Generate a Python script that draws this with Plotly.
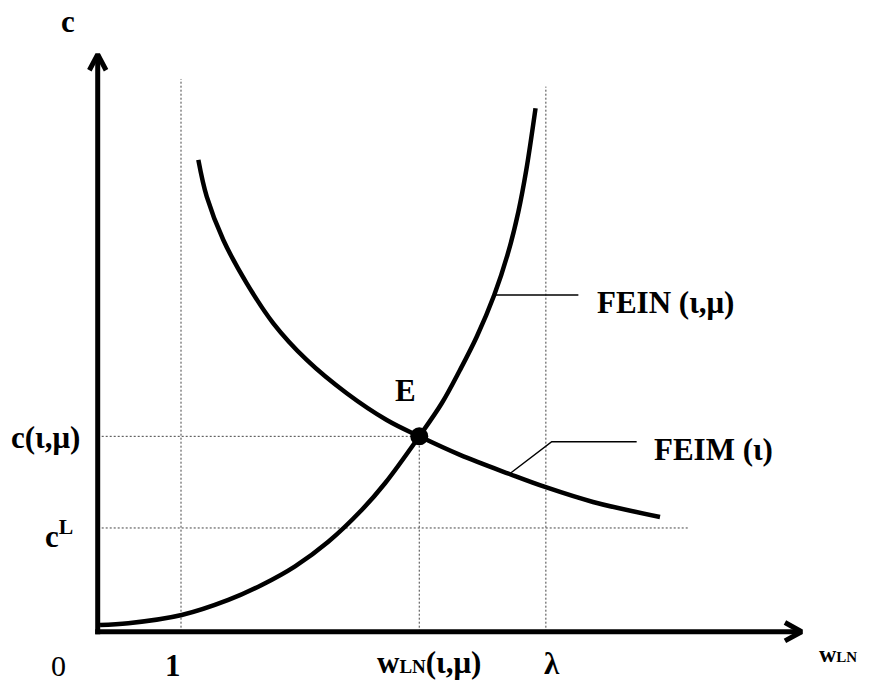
import plotly.graph_objects as go

# ---- data (chart units) ----
fein_x = [0.028, 0.367, 1.008, 1.568, 1.969, 2.369, 2.768, 3.169, 3.449, 3.860, 4.130, 4.349, 4.550, 4.760, 4.925, 5.050, 5.145, 5.256]
fein_y = [0.080, 0.101, 0.200, 0.381, 0.561, 0.785, 1.080, 1.461, 1.782, 2.345, 2.742, 3.142, 3.541, 4.042, 4.543, 5.042, 5.543, 6.283]

feim_x = [1.208, 1.309, 1.508, 1.789, 2.108, 2.509, 2.989, 3.469, 3.860, 4.349, 4.942, 5.370, 5.946, 6.750]
feim_y = [5.663, 5.222, 4.702, 4.182, 3.702, 3.262, 2.862, 2.541, 2.345, 2.122, 1.893, 1.737, 1.557, 1.377]

eq_x = 3.86           # w_LN(ι,μ)
eq_y = 2.345          # c(ι,μ)
one_x = 1.0
lam_x = 5.38
cL_y = 1.245

x_axis_end = 8.45
y_axis_end = 6.93

# leader lines
fein_leader_x = [4.760, 5.770]
fein_leader_y = [4.042, 4.042]
feim_leader_x = [4.942, 5.450, 6.470]
feim_leader_y = [1.893, 2.281, 2.281]

# ---- view ----
XR = [-1.173, 9.271]
YR = [-0.628, 7.583]

FONT = "Liberation Serif, Times New Roman, serif"
BLACK = "#000000"
DOT = dict(color="#444444", width=1, dash="2px,2px")

fig = go.Figure()

def line(xs, ys, **kw):
    fig.add_trace(go.Scatter(x=xs, y=ys, mode="lines", hoverinfo="skip", **kw))

# dotted guides
line([one_x, one_x], [0, 6.635], line=DOT)
line([lam_x, lam_x], [0, 6.543], line=DOT)
line([eq_x, eq_x], [0, eq_y], line=DOT)
line([0, eq_x], [eq_y, eq_y], line=DOT)
line([0, 7.098], [cL_y, cL_y], line=DOT)

# leaders
line(fein_leader_x, fein_leader_y, line=dict(color=BLACK, width=1.5))
line(feim_leader_x, feim_leader_y, line=dict(color=BLACK, width=1.5))

# curves
line(fein_x, fein_y, line=dict(color=BLACK, width=4.5, shape="spline", smoothing=1.0))
line(feim_x, feim_y, line=dict(color=BLACK, width=4.5, shape="spline", smoothing=1.0))

# axes
AX = dict(color=BLACK, width=5)
line([0, 0], [-0.03, y_axis_end], line=AX)
line([-0.1, 0, 0.1], [y_axis_end - 0.19, y_axis_end, y_axis_end - 0.19], line=AX)
line([-0.03, x_axis_end], [0, 0], line=AX)
line([x_axis_end - 0.2, x_axis_end, x_axis_end - 0.2], [0.11, 0, -0.11], line=AX)

# equilibrium point
fig.add_trace(go.Scatter(x=[eq_x], y=[eq_y], mode="markers",
                         marker=dict(color=BLACK, size=18), hoverinfo="skip"))

def text(x, y, s, size=31, xanchor="center", yanchor="middle"):
    fig.add_annotation(x=x, y=y, text=s, showarrow=False, xanchor=xanchor, yanchor=yanchor,
                       font=dict(family=FONT, size=size, color=BLACK))

# x labels
text(0.904, -0.40, "<b>1</b>")
text(3.977, -0.37, "<b>w<span style='font-size:19px'>LN</span>(ι,μ)</b>")
text(5.454, -0.38, "<b>λ</b>")
text(-0.476, -0.40, "0", size=30)
text(8.887, -0.27, "<b>w<span style='font-size:15px'>LN</span></b>", size=24)

# y labels
text(-0.627, 2.33, "<b>c(ι,μ)</b>")
text(-0.46, 1.17, "<b>c<sup>L</sup></b>")
text(-0.356, 7.33, "<b>c</b>")

# curve labels
text(5.965, 3.95, "<b>FEIN (ι,μ)</b>", xanchor="left")
text(6.650, 2.19, "<b>FEIM (ι)</b>", xanchor="left")
text(3.70, 2.90, "<b>E</b>")

fig.update_layout(
    width=870, height=684,
    margin=dict(l=0, r=0, t=0, b=0),
    paper_bgcolor="white", plot_bgcolor="white",
    showlegend=False,
    xaxis=dict(range=XR, visible=False, fixedrange=True),
    yaxis=dict(range=YR, visible=False, fixedrange=True),
)

fig.write_html("out.html",
               config={"displayModeBar": False},
               post_script="document.body.style.margin='0px';document.body.style.overflow='hidden';")
